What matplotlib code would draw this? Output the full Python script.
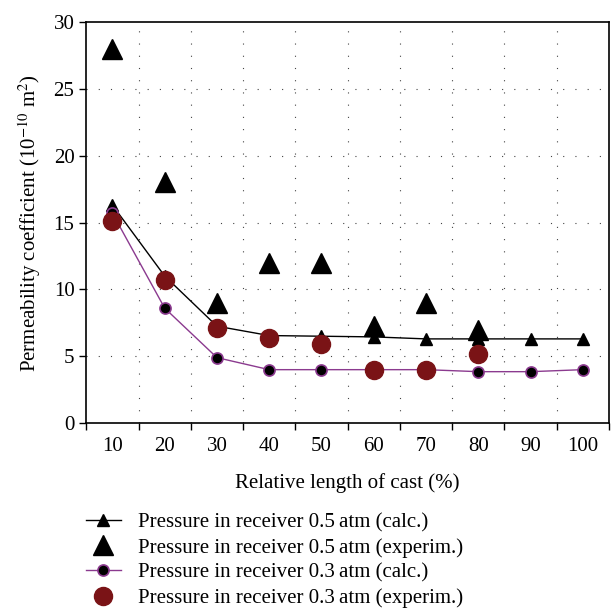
import matplotlib
matplotlib.use("Agg")
import matplotlib.pyplot as plt
from matplotlib.lines import Line2D
import numpy as np

plt.rcParams["font.family"] = ["Liberation Serif", "DejaVu Serif"]
plt.rcParams["mathtext.fontset"] = "stix"

categories = ["10", "20", "30", "40", "50", "60", "70", "80", "90", "100"]
calc_05 = [16.3, 11.0, 7.25, 6.55, 6.5, 6.45, 6.3, 6.3, 6.3, 6.3]
exp_05 = [28.0, 18.0, 9.0, 12.0, 12.0, 7.3, 9.0, 7.0, None, None]
calc_03 = [15.7, 8.6, 4.9, 4.0, 4.0, 4.0, 4.0, 3.85, 3.85, 4.0]
exp_03 = [15.1, 10.7, 7.15, 6.4, 5.95, 4.0, 4.0, 5.15, None, None]

dark_red = "#7a1316"
purple = "#8b3a8f"
fs = 15

x = np.arange(len(categories)) + 0.5

fig = plt.figure(figsize=(6.12, 6.08), dpi=100)
ax = fig.add_axes([0.141, 0.304, 0.854, 0.66])

ax.plot(x, calc_05, color="black", lw=1.0, marker="^", ms=8, zorder=3)
xe = [xi for xi, v in zip(x, exp_05) if v is not None]
ye = [v for v in exp_05 if v is not None]
ax.plot(xe, ye, ls="none", marker="^", color="black", ms=15, zorder=4)
ax.plot(x, calc_03, color=purple, lw=1.0, marker="o", ms=8,
        mfc="black", mec=purple, mew=1.2, zorder=3)
xr = [xi for xi, v in zip(x, exp_03) if v is not None]
yr = [v for v in exp_03 if v is not None]
ax.plot(xr, yr, ls="none", marker="o", color=dark_red, ms=13, zorder=5)

ax.set_xlim(0, 10)
ax.set_ylim(0, 30)
ax.set_xticks(np.arange(0, 11))
ax.set_xticklabels([])
ax.set_xticks(x, minor=True)
ax.set_xticklabels(categories, minor=True)
ax.tick_params(axis="x", which="minor", length=0, labelsize=fs, pad=10)
ax.tick_params(axis="x", which="major", direction="out", length=5, width=1)
ax.set_yticks(np.arange(0, 31, 5))
ax.tick_params(axis="y", direction="out", length=5, width=1, labelsize=fs)

for v in range(1, 10):
    ax.axvline(v, color="#444444", lw=0.8, ls=(0, (1, 10)), zorder=1)
for v in range(5, 30, 5):
    ax.axhline(v, color="#444444", lw=0.8, ls=(0, (1, 10)), zorder=1)

for s in ax.spines.values():
    s.set_linewidth(1.2)

ax.set_xlabel("Relative length of cast (%)", fontsize=fs, labelpad=12)
ax.set_ylabel("Permeability coefficient (10$^{-10}$ m$^{2}$)", fontsize=fs, labelpad=8)

handles = [
    Line2D([], [], color="black", lw=1.0, marker="^", ms=8),
    Line2D([], [], ls="none", color="black", marker="^", ms=15),
    Line2D([], [], color=purple, lw=1.0, marker="o", ms=8, mfc="black", mec=purple, mew=1.2),
    Line2D([], [], ls="none", color=dark_red, marker="o", ms=13),
]
labels = [
    "Pressure in receiver 0.5\u2009atm (calc.)",
    "Pressure in receiver 0.5\u2009atm (experim.)",
    "Pressure in receiver 0.3\u2009atm (calc.)",
    "Pressure in receiver 0.3\u2009atm (experim.)",
]
fig.legend(handles, labels, loc="upper left", bbox_to_anchor=(0.123, 0.174),
           frameon=False, fontsize=fs, handlelength=1.7, labelspacing=0.27,
           handletextpad=0.8, borderpad=0)

fig.savefig("out.png", dpi=100)
